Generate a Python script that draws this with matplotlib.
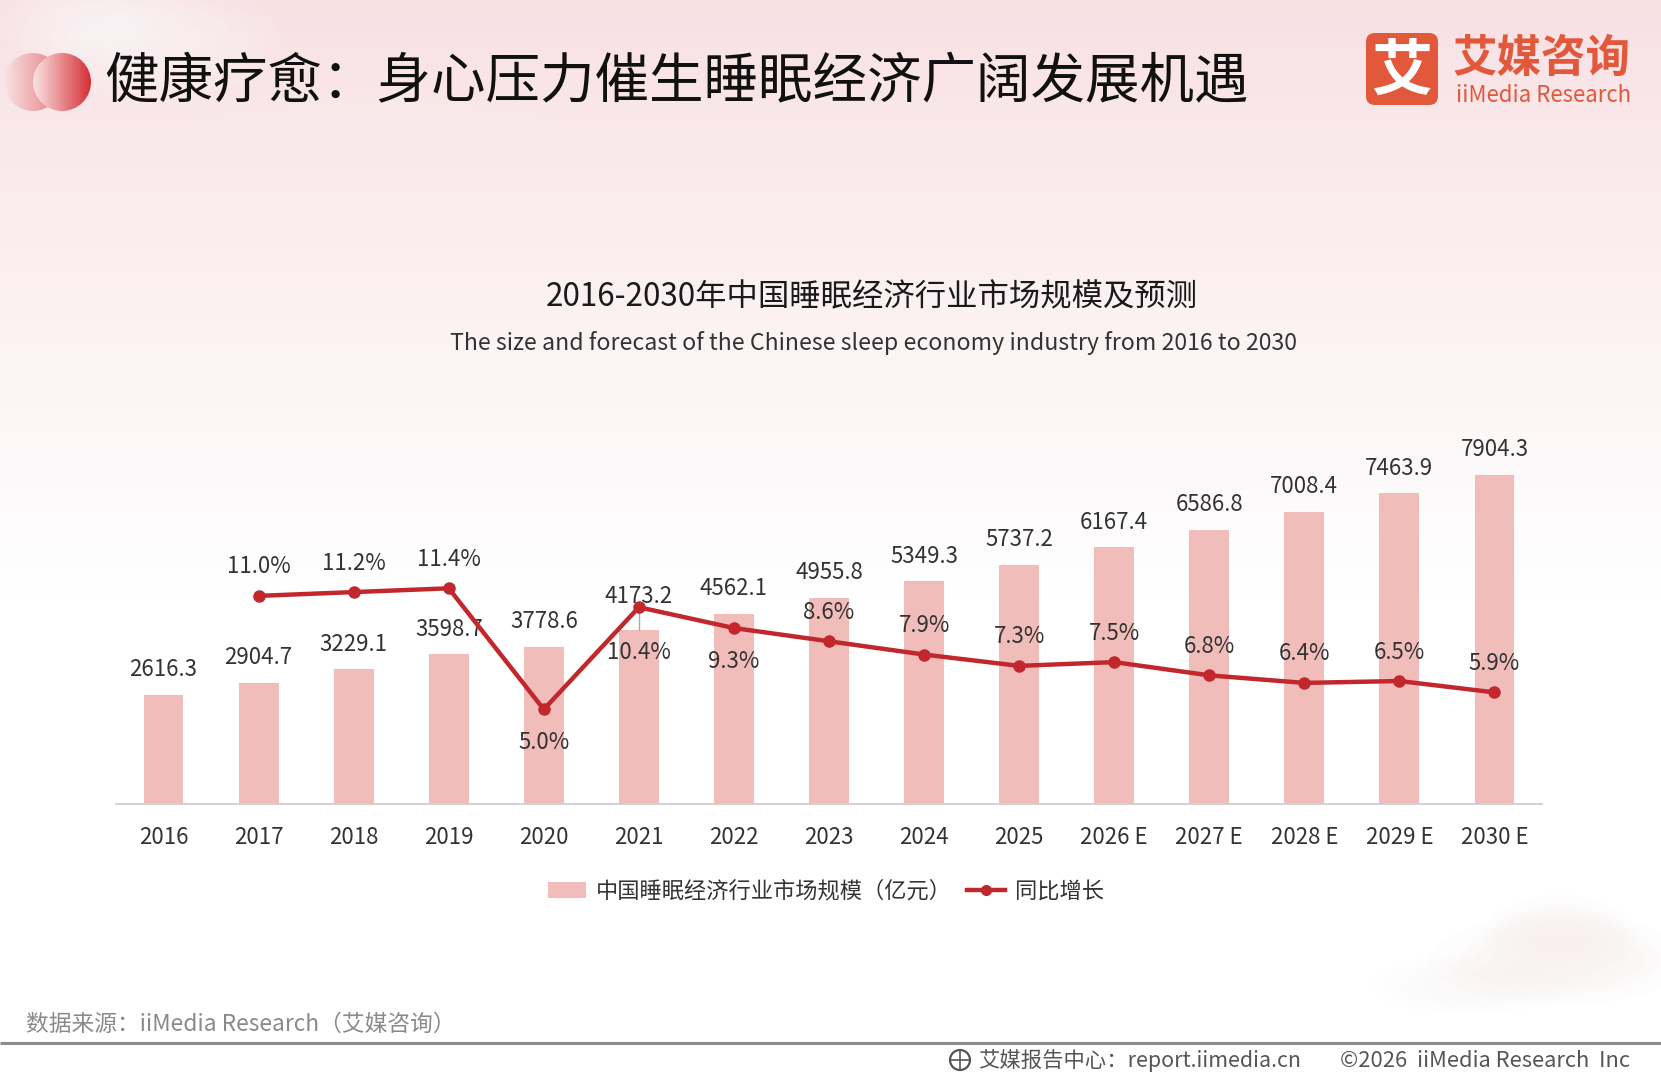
import numpy as np
import matplotlib
matplotlib.use("Agg")
import matplotlib.pyplot as plt
from matplotlib.patches import FancyBboxPatch, Circle, Ellipse
from matplotlib.lines import Line2D
from matplotlib.patches import Patch
from matplotlib.colors import LinearSegmentedColormap

plt.rcParams['font.family'] = ['Noto Sans CJK SC', 'DejaVu Sans']

# ---------------- data ----------------
years = ["2016", "2017", "2018", "2019", "2020", "2021", "2022", "2023",
         "2024", "2025", "2026 E", "2027 E", "2028 E", "2029 E", "2030 E"]
market_size = [2616.3, 2904.7, 3229.1, 3598.7, 3778.6, 4173.2, 4562.1, 4955.8,
               5349.3, 5737.2, 6167.4, 6586.8, 7008.4, 7463.9, 7904.3]
growth_years = years[1:]
growth = [11.0, 11.2, 11.4, 5.0, 10.4, 9.3, 8.6, 7.9, 7.3, 7.5, 6.8, 6.4, 6.5, 5.9]

title = "健康疗愈：身心压力催生睡眠经济广阔发展机遇"
chart_title = "2016-2030年中国睡眠经济行业市场规模及预测"
chart_subtitle = "The size and forecast of the Chinese sleep economy industry from 2016 to 2030"
legend_bar = "中国睡眠经济行业市场规模（亿元）"
legend_line = "同比增长"
source = "数据来源：iiMedia Research（艾媒咨询）"
footer_left = "艾媒报告中心：report.iimedia.cn"
footer_right = "©2026  iiMedia Research  Inc"

W, H = 1661, 1080
BAR_C = "#f0bdbb"
LINE_C = "#c1272d"
BRAND = "#e2583b"

fig = plt.figure(figsize=(W / 100, H / 100), dpi=100)

# ---------------- background ----------------
bg = fig.add_axes([0, 0, 1, 1])
bg.set_xlim(0, W)
bg.set_ylim(H, 0)
bg.axis("off")
yy = np.linspace(0, 1, 400)[:, None]
xx = np.linspace(0, 1, 400)[None, :]
top = np.array([248, 224, 227]) / 255.0
white = np.array([1.0, 1.0, 1.0])
t = np.clip(yy / 0.55, 0, 1) ** 0.9
t = t * np.ones_like(xx)
img = top[None, None, :] * (1 - t[..., None]) + white[None, None, :] * t[..., None]
bg.imshow(img, extent=(0, W, H, 0), aspect="auto", zorder=0, interpolation="bilinear")
# soft clouds
for (cx, cy, w, h, a, c) in [(150, 40, 260, 120, 0.55, "white"), (90, 20, 200, 90, 0.5, "white"),
                              (380, 150, 400, 120, 0.25, "white"),
                              (1560, 960, 260, 90, 0.30, "#f9e4e4"), (1560, 935, 150, 80, 0.30, "#f9e2e2"),
                              (1470, 985, 200, 60, 0.25, "#fbecec")]:
    for k in range(6):
        s = 1 - k * 0.12
        bg.add_patch(Ellipse((cx, cy), w * s, h * s, color=c, alpha=a / 6, lw=0, zorder=1))

def fit_text(ax, x, y, s, width, **kw):
    txt = ax.text(x, y, s, fontsize=20, **kw)
    r = fig.canvas.get_renderer()
    bb = txt.get_window_extent(r)
    txt.set_fontsize(20 * width / bb.width)
    return txt

# header decoration circles
for (cx, alpha0) in [(33, 0.6), (62, 1.0)]:
    r_ = 29
    grad = np.linspace(0, 1, 200)[None, :] * np.ones((200, 1))
    cm = LinearSegmentedColormap.from_list("c", ["#fbe4e4", "#d42f35"])
    im = bg.imshow(grad, cmap=cm, extent=(cx - r_, cx + r_, 82 + r_, 82 - r_), aspect="auto",
                   zorder=3, alpha=alpha0)
    clip = Circle((cx, 82), r_, transform=bg.transData)
    im.set_clip_path(clip)
bg.set_xlim(0, W)
bg.set_ylim(H, 0)

fit_text(bg, 104, 83, title, 1144, ha="left", va="center", color="#111111", zorder=5)

# logo
bg.add_patch(FancyBboxPatch((1366, 33), 72, 72, boxstyle="round,pad=0,rounding_size=9",
                            fc=BRAND, ec="none", zorder=5))
bg.text(1402, 72, "艾", fontsize=44, color="white", ha="center", va="center", weight="bold", zorder=6)
fit_text(bg, 1453, 59, "艾媒咨询", 178, ha="left", va="center", color=BRAND, weight="bold", zorder=6)
fit_text(bg, 1456, 96, "iiMedia Research", 175, ha="left", va="center", color=BRAND, zorder=6)

# chart titles
fit_text(bg, 872, 297, chart_title, 651, ha="center", va="center", color="#1a1a1a", weight="medium", zorder=5)
fit_text(bg, 873, 343, chart_subtitle, 847, ha="center", va="center", color="#333333", zorder=5)

# footer
fit_text(bg, 26, 1024, source, 429, ha="left", va="center", color="#8a8a8a", zorder=5)
bg.plot([0, W], [1043, 1043], color="#8c8c8c", lw=2.2, zorder=5, solid_capstyle="butt")
bg.add_patch(Circle((960, 1060), 10, fc="none", ec="#555555", lw=1.6, zorder=6))
bg.plot([950, 970], [1060, 1060], color="#555555", lw=1.2, zorder=6)
bg.plot([960, 960], [1050, 1070], color="#555555", lw=1.2, zorder=6)
fit_text(bg, 978, 1061, footer_left, 322, ha="left", va="center", color="#555555", zorder=5)
fit_text(bg, 1340, 1061, footer_right, 290, ha="left", va="center", color="#555555", zorder=5)

# ---------------- chart ----------------
ax = fig.add_axes([116 / W, (H - 804) / H, 1426 / W, 375 / H])
ax.patch.set_alpha(0)
x = np.arange(len(years))
bars = ax.bar(x, market_size, width=0.42, color=BAR_C, zorder=2)
ax.set_xlim(-0.5, len(years) - 0.5)
ax.set_ylim(0, 9000)
for sp in ["top", "right", "left"]:
    ax.spines[sp].set_visible(False)
ax.spines["bottom"].set_color("#cfcfcf")
ax.spines["bottom"].set_linewidth(1.3)
ax.set_yticks([])
ax.set_xticks(x)
ax.set_xticklabels(years, fontsize=16, color="#333333")
ax.tick_params(axis="x", length=0, pad=16)

bar_label_offset = {5: 34}
for i, v in enumerate(market_size):
    off = bar_label_offset.get(i, 25)
    ax.annotate(f"{v:.1f}", (x[i], v), xytext=(0, off), textcoords="offset pixels",
                ha="center", va="center", fontsize=16, color="#333333", zorder=5)

ax2 = ax.twinx()
ax2.set_ylim(0, 19.82)
ax2.axis("off")
gx = np.arange(1, len(years))
ax2.plot(gx, growth, color=LINE_C, lw=3.2, marker="o", markersize=8, zorder=4)
# leader for 2021
ax2.plot([5, 5], [market_size[5] / 9000 * 19.82, growth[4]], color="#aaaaaa", lw=1, zorder=3)
below = {4: 33, 5: 45, 6: 33}
for px, v in zip(gx, growth):
    off = -below[px] if px in below else 29
    ax2.annotate(f"{v:.1f}%", (px, v), xytext=(0, off), textcoords="offset pixels",
                 ha="center", va="center", fontsize=16, color="#333333", zorder=6)

handles = [Patch(fc=BAR_C, ec="none"),
           Line2D([0], [0], color=LINE_C, lw=3.2, marker="o", markersize=7)]
leg = fig.legend(handles, [legend_bar, legend_line], loc="center", bbox_to_anchor=(826 / W, (H - 891) / H),
                 ncol=2, frameon=False, fontsize=16, handlelength=1.7, handleheight=0.7,
                 handletextpad=0.45, columnspacing=0.7, labelcolor="#333333")

fig.savefig("out.png", dpi=100)
